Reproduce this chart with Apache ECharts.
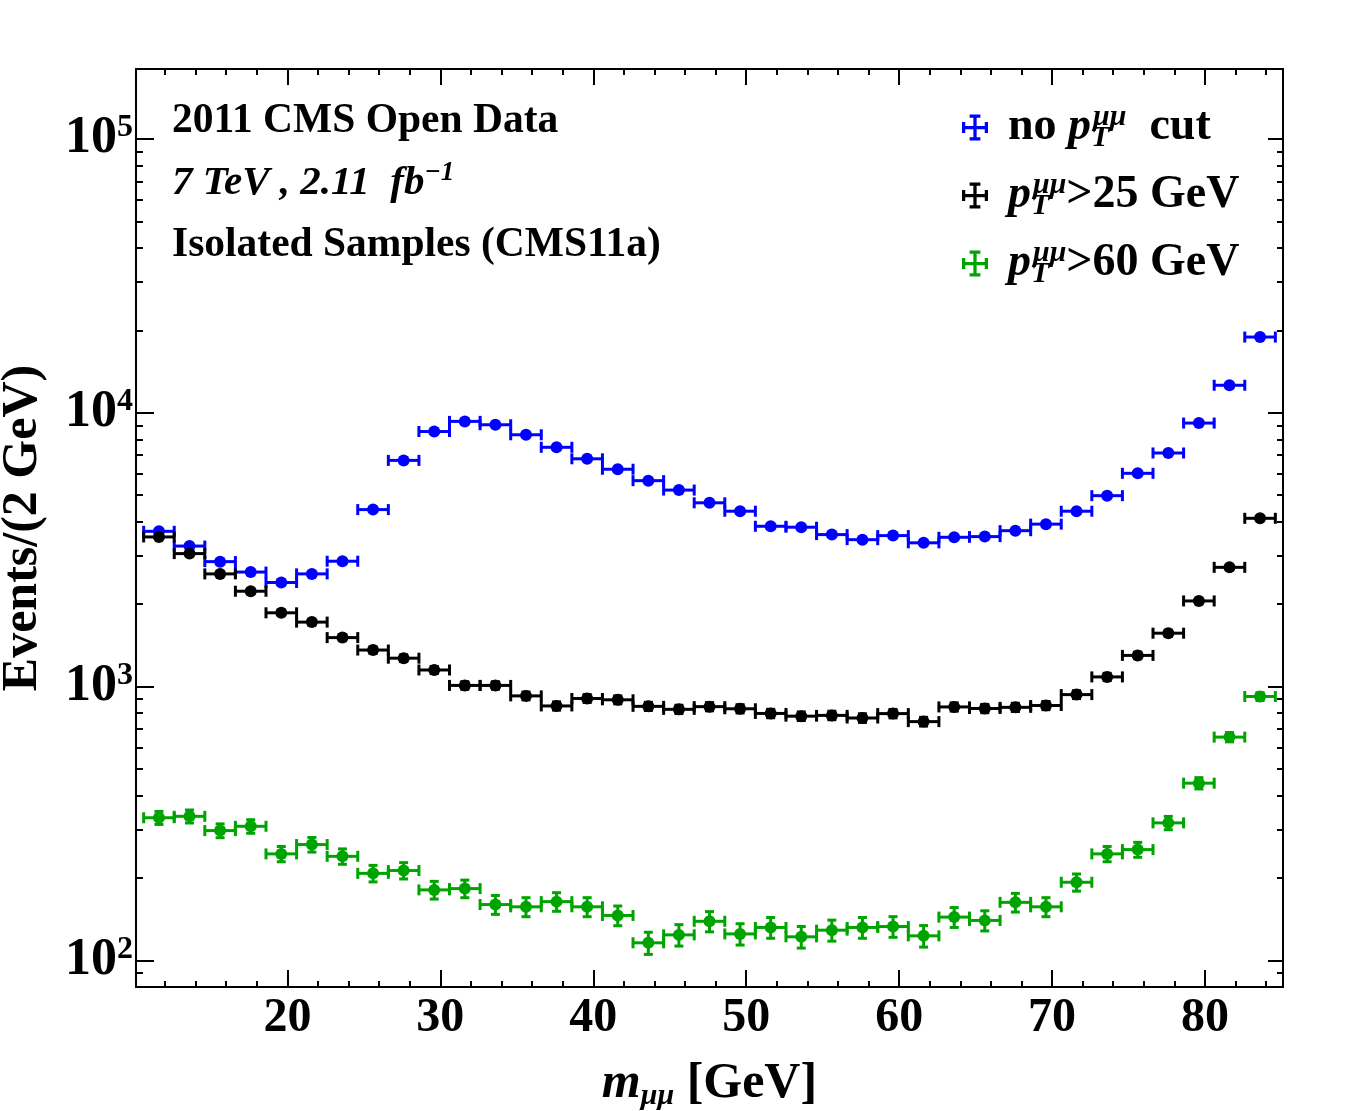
<!DOCTYPE html>
<html>
<head>
<meta charset="utf-8">
<title>Dimuon invariant mass</title>
<script src="https://cdn.jsdelivr.net/npm/echarts@6.0.0/dist/echarts.min.js"></script>
<style>
  html, body { margin: 0; padding: 0; background: #fff; }
  #chart { width: 1355px; height: 1111px; }
</style>
</head>
<body>
<div id="chart"></div>
<script>
// bin centres of m_mumu [GeV] (2 GeV bins)
const massBins = [11.6, 13.6, 15.6, 17.6, 19.6, 21.6, 23.6, 25.6, 27.6, 29.6,
  31.6, 33.6, 35.6, 37.6, 39.6, 41.6, 43.6, 45.6, 47.6, 49.6,
  51.6, 53.6, 55.6, 57.6, 59.6, 61.6, 63.6, 65.6, 67.6, 69.6,
  71.6, 73.6, 75.6, 77.6, 79.6, 81.6, 83.6]

// events / 2 GeV
const noCut = [3690, 3260, 2860, 2620, 2400, 2580, 2870, 4430, 6700, 8540,
  9300, 9040, 8310, 7480, 6790, 6220, 5650, 5220, 4690, 4370,
  3850, 3820, 3590, 3440, 3560, 3350, 3510, 3530, 3710, 3920,
  4370, 4980, 6010, 7130, 9170, 12600, 18900]
const cut25 = [3520, 3060, 2580, 2230, 1860, 1720, 1510, 1360, 1270, 1150,
  1010, 1010, 925, 850, 905, 895, 847, 826, 845, 830,
  798, 780, 785, 768, 797, 745, 843, 832, 840, 853,
  935, 1085, 1300, 1567, 2055, 2726, 4117]
const cut60 = [332, 336, 298, 309, 245, 265, 240, 208, 213, 181,
  183, 160, 157, 164, 157, 146, 116, 124, 139, 125,
  132, 122, 129, 132, 133, 123, 144, 140, 163, 157,
  193, 245, 254, 318, 444, 654, 920]

const xTickLabels = [20, 30, 40, 50, 60, 70, 80]
const yTickLabels = [100, 1000, 10000, 100000]

const FONT = 'Liberation Serif'
const BLUE = '#0000ff'
const BLACK = '#000000'
const GREEN = '#00a400'

// minor ticks
const xMinor = []
for (let m = 12; m <= 84; m += 2) xMinor.push(m)
const yMinor = [90]
yTickLabels.slice(0, 3).forEach(d => { for (let k = 2; k <= 9; k++) yMinor.push(d * k) })

const X_MIN = 10.1
const X_MAX = 85.1
const Y_MIN = 80
const Y_MAX = 180000

// draws point + bin width bar + poisson error bar
function errorBars (color, dotR) {
  return function (params, api) {
    const m = api.value(0)
    const n = api.value(1)
    const err = Math.sqrt(n)
    const c = api.coord([m, n])
    const left = api.coord([m - 1, n])[0]
    const right = api.coord([m + 1, n])[0]
    const top = api.coord([m, n + err])[1]
    const bot = api.coord([m, n - err])[1]
    const cap = 5.5
    const st = { stroke: color, lineWidth: 3 }
    return {
      type: 'group',
      children: [
        { type: 'line', shape: { x1: left, y1: c[1], x2: right, y2: c[1] }, style: st },
        { type: 'line', shape: { x1: left, y1: c[1] - cap, x2: left, y2: c[1] + cap }, style: st },
        { type: 'line', shape: { x1: right, y1: c[1] - cap, x2: right, y2: c[1] + cap }, style: st },
        { type: 'line', shape: { x1: c[0], y1: top, x2: c[0], y2: bot }, style: st },
        { type: 'line', shape: { x1: c[0] - 4.5, y1: top, x2: c[0] + 4.5, y2: top }, style: st },
        { type: 'line', shape: { x1: c[0] - 4.5, y1: bot, x2: c[0] + 4.5, y2: bot }, style: st },
        { type: 'circle', shape: { cx: c[0], cy: c[1], r: dotR }, style: { fill: color } }
      ]
    }
  }
}

function pairs (ys) {
  return massBins.map((m, i) => [m, ys[i]])
}

const axisLine = { show: true, lineStyle: { color: '#000', width: 2 } }
const noLine = { show: false }

function xAxisDef (pos, ticks, len, labels) {
  return {
    type: 'value', position: pos, min: X_MIN, max: X_MAX,
    axisLine: labels || pos === 'top' ? axisLine : noLine,
    splitLine: { show: false },
    axisTick: { inside: true, length: len, customValues: ticks, lineStyle: { color: '#000', width: 2 } },
    axisLabel: labels
      ? { customValues: xTickLabels, margin: 8, color: '#000', fontFamily: FONT, fontWeight: 'bold', fontSize: 48 }
      : { show: false }
  }
}

function yAxisDef (pos, ticks, len, labels) {
  return {
    type: 'log', position: pos, min: Y_MIN, max: Y_MAX,
    axisLine: labels || pos === 'right' ? axisLine : noLine,
    splitLine: { show: false },
    minorTick: { show: false },
    axisTick: { inside: true, length: len, customValues: ticks, lineStyle: { color: '#000', width: 2 } },
    axisLabel: labels
      ? {
          customValues: yTickLabels,
          margin: 3,
          formatter: v => '{b|10}{s|' + Math.round(Math.log10(v)) + '}',
          rich: {
            b: { fontFamily: FONT, fontWeight: 'bold', fontSize: 52, color: '#000', lineHeight: 54 },
            s: { fontFamily: FONT, fontWeight: 'bold', fontSize: 32, color: '#000', verticalAlign: 'top', lineHeight: 32, padding: [0, 0, 22, 0] }
          }
        }
      : { show: false }
  }
}

const sub = { fontFamily: FONT, fontStyle: 'italic', fontWeight: 'bold', fontSize: 30, color: '#000', verticalAlign: 'bottom', lineHeight: 26, width: 2, padding: [30, 0, 0, 0] }
const sup = { fontFamily: FONT, fontStyle: 'italic', fontWeight: 'bold', fontSize: 30, color: '#000', verticalAlign: 'top', lineHeight: 26, padding: [0, 0, 22, 0] }

const legendText = {
  'no pT cut': '{gap| }{t|no }{i|p}{sub|T}{sup|μμ}{t|  cut}',
  'pT>25 GeV': '{gap| }{i|p}{sub|T}{sup|μμ}{t|>25 GeV}',
  'pT>60 GeV': '{gap| }{i|p}{sub|T}{sup|μμ}{t|>60 GeV}'
}

const chart = echarts.init(document.getElementById('chart'))
const option = {
  animation: false,
  backgroundColor: '#fff',
  color: [BLUE, BLACK, GREEN],
  grid: { left: 136, right: 72, top: 69, bottom: 124, containLabel: false, outerBoundsMode: 'none' },
  title: [
    { text: '2011 CMS Open Data', left: 172, top: 100, padding: 0,
      textStyle: { fontFamily: FONT, fontWeight: 'bold', fontSize: 41.5, color: '#000' } },
    { text: '{i|7 TeV , 2.11  fb}{s|−1}', left: 172, top: 160, padding: 0,
      textStyle: {
        rich: {
          i: { fontFamily: FONT, fontStyle: 'italic', fontWeight: 'bold', fontSize: 41, color: '#000', lineHeight: 46 },
          s: { fontFamily: FONT, fontStyle: 'italic', fontWeight: 'bold', fontSize: 27, color: '#000', verticalAlign: 'top', lineHeight: 26, padding: [0, 0, 10, 0] }
        }
      } },
    { text: 'Isolated Samples (CMS11a)', left: 172, top: 224, padding: 0,
      textStyle: { fontFamily: FONT, fontWeight: 'bold', fontSize: 41.5, color: '#000' } }
  ],
  legend: {
    orient: 'vertical', left: 962, top: 93, padding: 0,
    itemWidth: 28, itemHeight: 26, itemGap: 7,
    icon: 'path://M0 7h3v10h-3z M21 7h3v10h-3z M0 10.5h24v3h-24z M10.5 2h3v20h-3z M7 0h10v3h-10z M7 21h10v3h-10z',
    data: ['no pT cut', 'pT>25 GeV', 'pT>60 GeV'],
    formatter: name => legendText[name],
    textStyle: {
      rich: {
        gap: { width: 14 },
        t: { fontFamily: FONT, fontWeight: 'bold', fontSize: 46, color: '#000', lineHeight: 51 },
        i: { fontFamily: FONT, fontStyle: 'italic', fontWeight: 'bold', fontSize: 46, color: '#000', lineHeight: 51 },
        sub: sub,
        sup: sup
      }
    }
  },
  xAxis: [
    Object.assign(xAxisDef('bottom', xTickLabels, 17, true), {
      name: '{i|m}{s|μμ}{t| [GeV]}',
      nameLocation: 'middle',
      nameGap: 70,
      nameTextStyle: {
        rich: {
          i: { fontFamily: FONT, fontStyle: 'italic', fontWeight: 'bold', fontSize: 50, color: '#000', lineHeight: 54 },
          t: { fontFamily: FONT, fontWeight: 'bold', fontSize: 50, color: '#000', lineHeight: 54 },
          s: { fontFamily: FONT, fontStyle: 'italic', fontWeight: 'bold', fontSize: 30, color: '#000', verticalAlign: 'bottom', lineHeight: 30, padding: [14, 0, 0, 0] }
        }
      }
    }),
    xAxisDef('bottom', xMinor, 6, false),
    xAxisDef('top', xTickLabels, 16, false),
    xAxisDef('top', xMinor, 6, false)
  ],
  yAxis: [
    Object.assign(yAxisDef('left', yTickLabels, 18, true), {
      name: 'Events/(2 GeV)',
      nameLocation: 'middle',
      nameGap: 88,
      nameTextStyle: { fontFamily: FONT, fontWeight: 'bold', fontSize: 50, color: '#000' }
    }),
    yAxisDef('left', yMinor, 7, false),
    yAxisDef('right', yTickLabels, 15, false),
    yAxisDef('right', yMinor, 6, false)
  ],
  series: [
    { name: 'no pT cut', type: 'custom', itemStyle: { color: BLUE }, renderItem: errorBars(BLUE, 6), data: pairs(noCut) },
    { name: 'pT>25 GeV', type: 'custom', itemStyle: { color: BLACK }, renderItem: errorBars(BLACK, 6), data: pairs(cut25) },
    { name: 'pT>60 GeV', type: 'custom', itemStyle: { color: GREEN }, renderItem: errorBars(GREEN, 6), data: pairs(cut60) }
  ]
}
chart.setOption(option)
</script>
</body>
</html>
